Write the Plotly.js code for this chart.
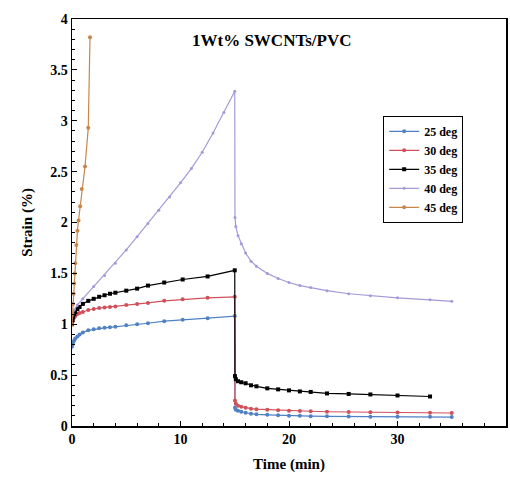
<!DOCTYPE html>
<html>
<head>
<meta charset="utf-8">
<script src="https://cdn.plot.ly/plotly-3.0.1.min.js"></script>
<style>html,body{margin:0;padding:0;background:#fff;}#chart{width:510px;height:483px;}</style>
</head>
<body>
<div id="chart"></div>
<script>
// Time (min)
const t25 = [0,0.05,0.1,0.2,0.3,0.5,0.7,1,1.5,2,2.5,3,3.5,4,5,6,7,8.5,10.2,12.5,15,15.02,15.1,15.3,15.6,16,16.5,17,18,19,20,21,22,23.5,25.5,27.5,30,33,35];
const s25 = [0.78,0.8,0.82,0.84,0.86,0.88,0.9,0.92,0.94,0.95,0.96,0.965,0.97,0.975,0.99,1.0,1.01,1.03,1.045,1.06,1.08,0.18,0.16,0.15,0.14,0.13,0.12,0.115,0.11,0.105,0.1,0.1,0.097,0.095,0.093,0.092,0.09,0.09,0.088];

const t30 = [0,0.05,0.1,0.2,0.3,0.5,0.7,1,1.5,2,2.5,3,3.5,4,5,6,7,8.5,10.2,12.5,15,15.02,15.1,15.3,15.6,16,16.5,17,18,19,20,21,22,23.5,25.5,27.5,30,33,35];
const s30 = [1.0,1.03,1.05,1.07,1.08,1.1,1.11,1.12,1.14,1.15,1.16,1.165,1.17,1.175,1.19,1.2,1.21,1.23,1.245,1.26,1.27,0.25,0.22,0.2,0.19,0.18,0.17,0.165,0.16,0.155,0.15,0.148,0.145,0.14,0.137,0.135,0.132,0.13,0.128];

const t35 = [0,0.05,0.1,0.2,0.3,0.5,0.7,1,1.5,2,2.5,3,3.5,4,5,6,7,8.5,10.2,12.5,15,15.02,15.1,15.3,15.6,16,16.5,17,18,19,20,21,22,23.5,25.5,27.5,30,33];
const s35 = [1.0,1.04,1.07,1.1,1.12,1.15,1.17,1.2,1.23,1.25,1.27,1.285,1.3,1.31,1.33,1.35,1.38,1.41,1.44,1.47,1.53,0.49,0.46,0.44,0.43,0.42,0.4,0.39,0.37,0.36,0.35,0.34,0.335,0.32,0.315,0.31,0.3,0.29];

const t40 = [0,0.2,0.5,1,2,3,4,5,6,7,8,9,10,11,12,13,14,15,15.02,15.1,15.3,15.6,16,16.5,17,18,19,20,21,22,23.5,25.5,27.5,30,33,35];
const s40 = [1.08,1.14,1.19,1.25,1.37,1.48,1.6,1.73,1.86,1.99,2.12,2.25,2.39,2.53,2.69,2.88,3.08,3.29,2.05,1.96,1.87,1.79,1.7,1.62,1.57,1.5,1.45,1.41,1.38,1.36,1.33,1.3,1.28,1.26,1.24,1.225];

const t45 = [0,0.05,0.1,0.15,0.2,0.25,0.3,0.4,0.5,0.6,0.75,0.9,1.2,1.5,1.66];
const s45 = [1.0,1.1,1.2,1.3,1.4,1.5,1.6,1.78,1.92,2.02,2.16,2.33,2.55,2.93,3.82];

const names = ['25 deg','30 deg','35 deg','40 deg','45 deg'];
const colors = ['#4f81c4','#d0505a','#000000','#a49ad8','#c8864a'];
const xs = [t25,t30,t35,t40,t45];
const ys = [s25,s30,s35,s40,s45];

const font = '"Liberation Serif", "Times New Roman", serif';
const traces = names.map((n,i)=>({
  x: xs[i], y: ys[i], name: n, type:'scatter', mode:'lines+markers',
  line:{color:colors[i], width: 1.2},
  marker:{color:colors[i], size: i===3 ? 3 : 4, symbol: i===2 ? 'square' : 'circle'}
}));

const layout = {
  width:510, height:483,
  font:{family:font},
  margin:{l:72, r:4, t:19, b:57},
  paper_bgcolor:'#fff', plot_bgcolor:'#fff',
  showlegend:true,
  legend:{x:0.717, y:0.762, xanchor:'left', yanchor:'top', bordercolor:'#000', borderwidth:1,
          bgcolor:'#fff', font:{family:font, size:12, color:'#000', weight:'bold'}, tracegroupgap:0},
  xaxis:{range:[0,40], dtick:10, ticks:'inside', ticklen:5, tickcolor:'#000',
         showline:true, linecolor:'#000', linewidth:1.5, mirror:true, zeroline:false, showgrid:false,
         minor:{dtick:2, ticks:'inside', ticklen:3, tickcolor:'#000'},
         tickfont:{family:font, size:14, color:'#000', weight:'bold'},
         title:{text:'Time (min)', font:{family:font, size:15, color:'#000', weight:'bold'}, standoff:12}},
  yaxis:{range:[0,4], dtick:0.5, ticks:'inside', ticklen:5, tickcolor:'#000',
         showline:true, linecolor:'#000', linewidth:1.5, mirror:true, zeroline:false, showgrid:false,
         minor:{dtick:0.1, ticks:'inside', ticklen:3, tickcolor:'#000'},
         tickfont:{family:font, size:14, color:'#000', weight:'bold'},
         title:{text:'Strain (%)', font:{family:font, size:15, color:'#000', weight:'bold'}, standoff:14}},
  annotations:[{text:'1Wt% SWCNTs/PVC', xref:'paper', yref:'paper', x:0.46, y:0.948,
    xanchor:'center', yanchor:'middle', showarrow:false,
    font:{family:font, size:17, color:'#000', weight:'bold'}}]
};
Plotly.newPlot('chart', traces, layout, {displayModeBar:false, staticPlot:true});
</script>
</body>
</html>
